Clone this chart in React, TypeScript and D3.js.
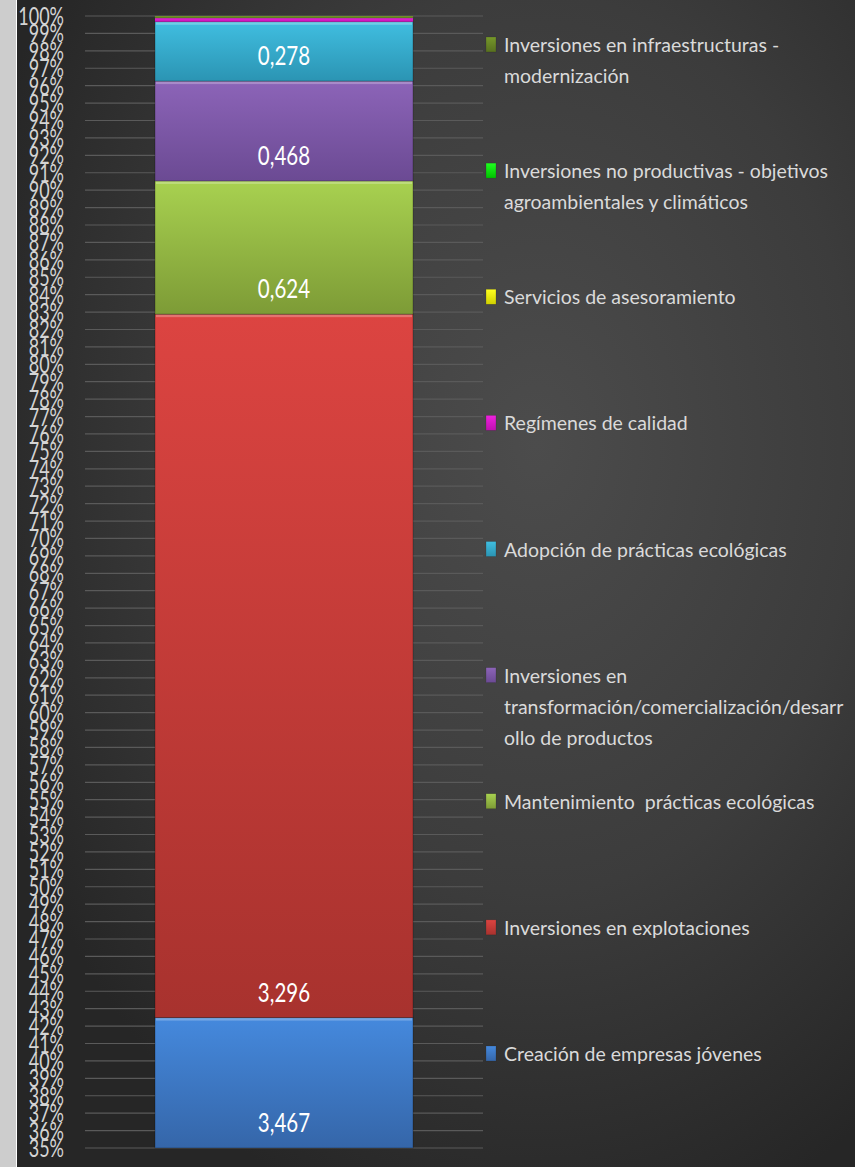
import React from "react";
import * as d3 from "d3";

const W = 868;
const H = 1167;

// Stack order bottom -> top
const seriesNames = [
  "Creación de empresas jóvenes",
  "Inversiones en explotaciones",
  "Mantenimiento  prácticas ecológicas",
  "Inversiones en transformación/comercialización/desarrollo de productos",
  "Adopción de prácticas ecológicas",
  "Regímenes de calidad",
  "Servicios de asesoramiento",
  "Inversiones no productivas - objetivos agroambientales y climáticos",
  "Inversiones en infraestructuras - modernización",
];
const seriesValues = [3.467, 3.296, 0.624, 0.468, 0.278, 0.017, 0, 0, 0.01];
const valueLabels = ["3,467", "3,296", "0,624", "0,468", "0,278", "", "", "", ""];
const seriesTop = ["#4589dd", "#dc4441", "#a8d150", "#8c64b8", "#40bee0", "#ee22de", "#ffff20", "#20ff20", "#76982a"];
const seriesBottom = ["#3566a9", "#a8322e", "#7d9b36", "#6b4a93", "#2b94b3", "#c010b0", "#d0d000", "#00c000", "#587020"];

// Legend (top -> bottom), wrapped lines as shown
const legendLines = [
  ["Inversiones en infraestructuras -", "modernización"],
  ["Inversiones no productivas - objetivos", "agroambientales y climáticos"],
  ["Servicios de asesoramiento"],
  ["Regímenes de calidad"],
  ["Adopción de prácticas ecológicas"],
  ["Inversiones en", "transformación/comercialización/desarr", "ollo de productos"],
  ["Mantenimiento  prácticas ecológicas"],
  ["Inversiones en explotaciones"],
  ["Creación de empresas jóvenes"],
];
const legendSeriesIndex = [8, 7, 6, 5, 4, 3, 2, 1, 0];

const yTicks = d3.range(35, 101, 1);

export default function App() {
  const total = d3.sum(seriesValues);
  const y = d3.scaleLinear().domain([0.35, 1]).range([1148, 16]);
  const x = d3.scaleBand().domain(["bar"]).range([155, 413]).padding(0);
  const legendY = d3.scaleLinear().domain([0, 8]).range([52, 1061]);

  let cum = 0;
  const segs = seriesValues.map((v, i) => {
    const y0 = cum / total;
    cum += v;
    const y1 = cum / total;
    return { i, v, y0, y1 };
  });

  const bx = x("bar")!;
  const bw = x.bandwidth();
  const font = "Lato, 'Open Sans', sans-serif";

  return (
    <svg width={W} height={H} style={{ position: "absolute", left: 0, top: 0 }}>
      <defs>
        <radialGradient id="bg" cx="0.62" cy="0.38" r="0.7">
          <stop offset="0" stopColor="#4c4c4c" />
          <stop offset="0.55" stopColor="#3c3c3c" />
          <stop offset="1" stopColor="#262626" />
        </radialGradient>
        {seriesNames.map((_, i) => (
          <linearGradient key={i} id={`g${i}`} x1="0" y1="0" x2="0" y2="1">
            <stop offset="0" stopColor={seriesTop[i]} />
            <stop offset="1" stopColor={seriesBottom[i]} />
          </linearGradient>
        ))}
      </defs>
      <rect x={0} y={0} width={W} height={H} fill="#ffffff" />
      <rect x={0} y={0} width={16} height={H} fill="#cdcdcd" />
      <rect x={17} y={0} width={838} height={H} fill="url(#bg)" />

      {/* gridlines */}
      {yTicks.map((t) => (
        <line key={t} x1={85} x2={483} y1={y(t / 100)} y2={y(t / 100)} stroke="#5a5a5a" strokeWidth={1.2} />
      ))}
      {/* tick labels */}
      {yTicks.map((t) => (
        <text
          key={t}
          transform={`translate(64,${y(t / 100) + 9}) scale(0.72,1)`}
          textAnchor="end"
          fontFamily={font}
          fontSize={25}
          fill="#d4d4d4"
        >
          {t}%
        </text>
      ))}

      {/* bar segments */}
      {segs.map((s) => {
        if (s.v <= 0) return null;
        const yTop = y(s.y1);
        const yBot = s.y0 < 0.35 ? y(0.35) : y(s.y0);
        const h = yBot - yTop;
        return (
          <g key={s.i}>
            <rect x={bx} y={yTop} width={bw} height={h} fill={`url(#g${s.i})`} />
            {h > 8 && (
              <>
                <rect x={bx + 1} y={yTop} width={bw - 2} height={3} fill="#ffffff" opacity={0.25} />
                <rect x={bx} y={yTop} width={bw} height={h} fill="none" stroke="#000" strokeOpacity={0.25} strokeWidth={1} />
              </>
            )}
          </g>
        );
      })}
      {/* value labels */}
      {segs.map((s) =>
        valueLabels[s.i] ? (
          <text
            key={`l${s.i}`}
            transform={`translate(${bx + bw / 2},${(s.y0 < 0.35 ? y(0.35) : y(s.y0)) - 16}) scale(0.76,1)`}
            textAnchor="middle"
            fontFamily={font}
            fontSize={27}
            fill="#ffffff"
          >
            {valueLabels[s.i]}
          </text>
        ) : null
      )}

      {/* legend */}
      {legendLines.map((lines, k) => {
        const si = legendSeriesIndex[k];
        const by = legendY(k);
        return (
          <g key={k}>
            <rect x={486} y={by - 15} width={10} height={15} fill={`url(#g${si})`} stroke="#222" strokeOpacity={0.4} strokeWidth={0.5} />
            {lines.map((ln, j) => (
              <text
                key={j}
                x={504}
                y={by + j * 31}
                fontFamily={font}
                fontSize={19.5}
                fill="#dadada"
                style={{ whiteSpace: "pre" }}
              >
                {ln}
              </text>
            ))}
          </g>
        );
      })}
    </svg>
  );
}
